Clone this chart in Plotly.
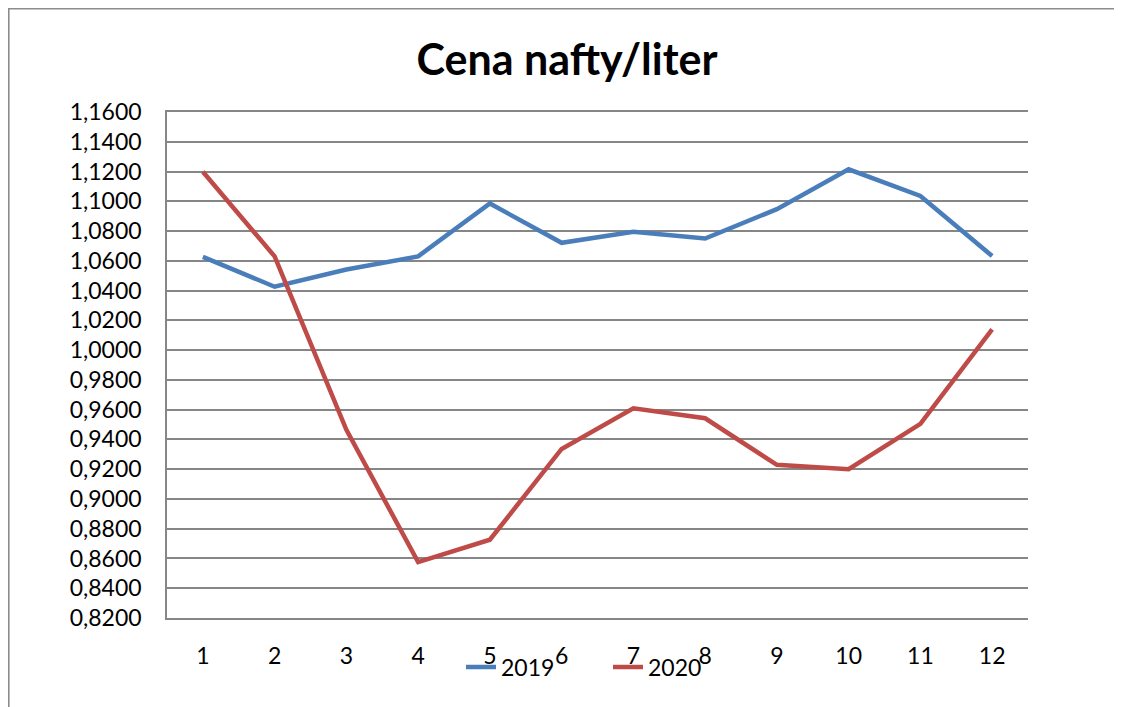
import plotly.graph_objects as go

months = ["1", "2", "3", "4", "5", "6", "7", "8", "9", "10", "11", "12"]
price_2019 = [1.0627, 1.0426, 1.0542, 1.0630, 1.0985, 1.0721, 1.0795, 1.0750, 1.0947, 1.1215, 1.1036, 1.0632]
price_2020 = [1.1198, 1.0630, 0.9464, 0.8576, 0.8726, 0.9336, 0.9609, 0.9542, 0.9229, 0.9200, 0.9504, 1.0140]
series_names = ["2019", "2020"]
y_ticks = [0.82, 0.84, 0.86, 0.88, 0.90, 0.92, 0.94, 0.96, 0.98, 1.00, 1.02, 1.04, 1.06, 1.08, 1.10, 1.12, 1.14, 1.16]
title_text = "Cena nafty/liter"

OFF = 8  # page body margin
W, H = 1122 - OFF, 707 - OFF
L, R, T, B = 167 - OFF, 1028 - OFF, 112 - OFF, 618 - OFF
pw, ph = R - L, B - T

FONT = "Lato"

fig = go.Figure()
fig.add_trace(go.Scatter(x=months, y=price_2019, name=series_names[0], mode="lines",
                         line=dict(color="#4a7ebb", width=4.5)))
fig.add_trace(go.Scatter(x=months, y=price_2020, name=series_names[1], mode="lines",
                         line=dict(color="#be4b48", width=4.5)))

def px_x(x):
    return (x - OFF - L) / pw

def px_y(y):
    return (B - (y - OFF)) / ph

fig.add_shape(type="rect", xref="paper", yref="paper",
              x0=px_x(8.8), x1=px_x(1135), y0=px_y(720), y1=px_y(8.8),
              line=dict(color="#8c8c8c", width=1.6), fillcolor="rgba(0,0,0,0)", layer="below")

fig.update_layout(
    width=W, height=H,
    margin=dict(l=L, r=W - R, t=T, b=H - B),
    paper_bgcolor="white", plot_bgcolor="white",
    separators=", ",
    title=dict(text="<b>" + title_text + "</b>", x=(567 - OFF) / W, xanchor="center",
               y=1 - (60 - OFF) / H, yanchor="middle", yref="container",
               font=dict(family=FONT, size=43, color="black")),
    font=dict(family=FONT, size=23, color="black"),
    xaxis=dict(type="category", range=[-0.5, 11.5], showgrid=False, zeroline=False,
               showline=True, mirror=True, linecolor="#868686", linewidth=1.5,
               ticks="", ticklabelstandoff=17, tickfont=dict(size=23)),
    yaxis=dict(range=[0.82, 1.16], tickvals=y_ticks, tickformat=".4f",
               showgrid=True, gridcolor="#868686", gridwidth=1.5,
               showline=True, linecolor="#868686", linewidth=1.5,
               zeroline=False, ticks="", ticklabelstandoff=19, tickfont=dict(size=23)),
    legend=dict(orientation="h", x=px_x(461), xanchor="left", y=px_y(667), yanchor="middle",
                bgcolor="rgba(0,0,0,0)", font=dict(size=23), itemwidth=30,
                tracegroupgap=0, entrywidth=102),
    showlegend=True,
)

fig.write_html("out.html")
